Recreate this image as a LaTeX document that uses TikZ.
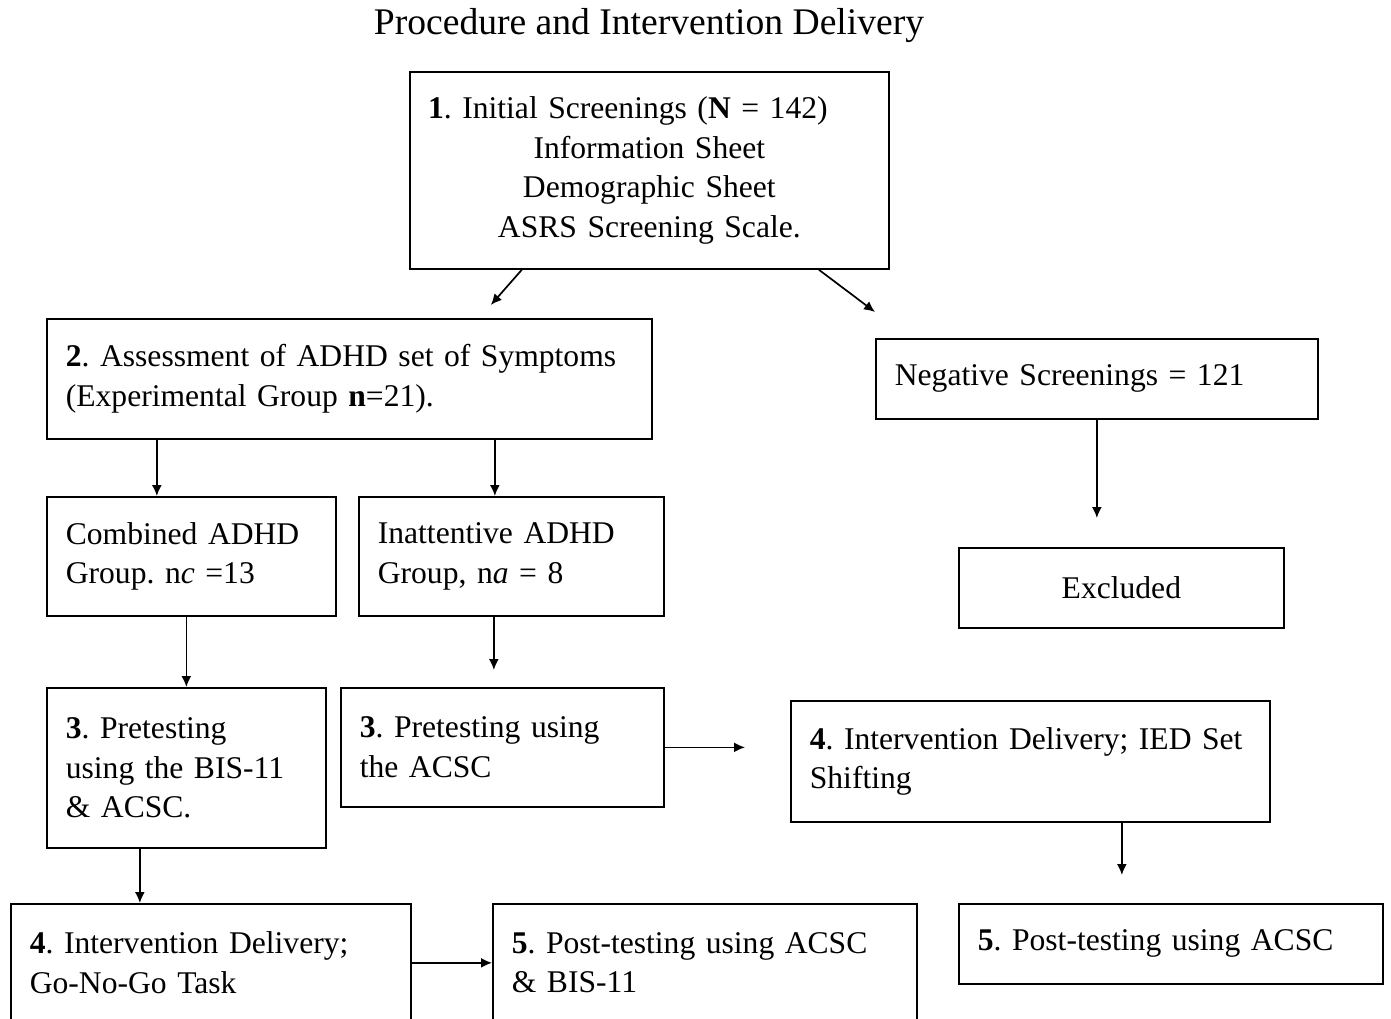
\documentclass[tikz,border=0pt]{standalone}
\usepackage{fontspec}
\setmainfont{Liberation Serif}
\usetikzlibrary{arrows.meta, calc}
\frenchspacing

\begin{document}
\begin{tikzpicture}[x=0.5pt, y=-0.5pt,
    box/.style = {draw, line width=0.85pt, anchor=north west, inner xsep=9.5pt,
                  inner ysep=0pt, align=left, font=\fontsize{15.8}{19.75}\selectfont},
    arr/.style = {line width=0.85pt, -{Latex[length=5.5pt, width=5pt]}}]

    \useasboundingbox (0,0) rectangle (1391,1018);

    % Title
    \node (title) at (649,26) [font=\fontsize{18.8}{22}\selectfont]
        {Procedure and Intervention Delivery};

    % Boxes
    \node (b1) at (409,71) [box, align=center, text width=220.5pt, minimum height=98.5pt]
        {\makebox[0pt]{\textbf{1}. Initial Screenings (\textbf{N} = 142)\hspace{21.5pt}}\\
         Information Sheet\\ Demographic Sheet\\ ASRS Screening Scale.};
    \node (b2) at (46,318) [box, text width=283.5pt, minimum height=60pt]
        {\textbf{2}. Assessment of ADHD set of Symptoms\\
         (Experimental Group \textbf{n}=21).};
    \node (neg) at (875,338) [box, text width=202pt, minimum height=40pt]
        {Negative Screenings = 121};
    \node (excl) at (958,547) [box, align=center, text width=143.5pt, minimum height=40pt]
        {Excluded};
    \node (comb) at (46,496) [box, text width=125.5pt, minimum height=59.5pt]
        {Combined ADHD\\ Group. n\textit{c} =13};
    \node (inatt) at (358,496) [box, text width=133.5pt, minimum height=59.5pt]
        {Inattentive ADHD\\ Group, n\textit{a} = 8};
    \node (pre1) at (46,687) [box, text width=120.5pt, minimum height=80pt]
        {\textbf{3}. Pretesting\\ using the BIS-11\\ \& ACSC.};
    \node (pre2) at (340,687) [box, text width=142.5pt, minimum height=59.5pt]
        {\textbf{3}. Pretesting using\\ the ACSC};
    \node (int2) at (790,700) [box, text width=220.5pt, minimum height=60.5pt]
        {\textbf{4}. Intervention Delivery; IED Set\\ Shifting};
    \node (int1) at (10,903) [box, text width=181pt, minimum height=59pt]
        {\textbf{4}. Intervention Delivery;\\ Go-No-Go Task};
    \node (post1) at (492,903) [box, text width=193pt, minimum height=59pt]
        {\textbf{5}. Post-testing using ACSC\\ \& BIS-11};
    \node (post2) at (958,903) [box, text width=193pt, minimum height=40pt]
        {\textbf{5}. Post-testing using ACSC};

    % Connectors
    \draw[arr] ([xshift=-63.75pt]b1.south) -- ([shift={(70.75pt,6.5pt)}]b2.north);
    \draw[arr] ([xshift=84.75pt]b1.south) -- ([yshift=13pt]neg.north west);
    \draw[arr] ([xshift=-17.25pt]comb.north |- b2.south) -- ([xshift=-17.25pt]comb.north);
    \draw[arr] ([xshift=-8.25pt]inatt.north |- b2.south) -- ([xshift=-8.25pt]inatt.north);
    \draw[arr, shorten >=14.5pt] (neg.south) -- (neg.south |- excl.north);
    \draw[arr] (comb.south -| pre1.north) -- (pre1.north);
    \draw[arr, shorten >=8.5pt] ([xshift=-4.25pt]pre2.north |- inatt.south) -- ([xshift=-4.25pt]pre2.north);
    \draw[arr, shorten >=22.5pt] (pre2.east) -- (pre2.east -| int2.west);
    \draw[arr, shorten >=14pt] ([xshift=45.75pt]int2.south) -- ([xshift=45.75pt]int2.south |- post2.north);
    \draw[arr] ([xshift=-35.5pt]int1.north |- pre1.south) -- ([xshift=-35.5pt]int1.north);
    \draw[arr] (int1.east) -- (int1.east -| post1.west);
\end{tikzpicture}
\end{document}
